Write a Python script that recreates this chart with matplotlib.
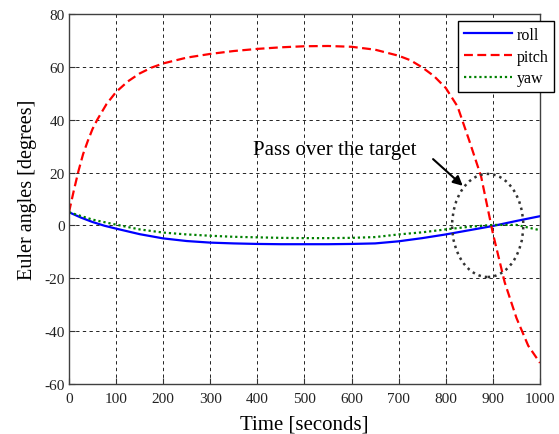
import matplotlib
matplotlib.use("Agg")
import matplotlib.pyplot as plt
from matplotlib.patches import Ellipse

plt.rcParams['font.family'] = ['Liberation Serif', 'DejaVu Serif']
plt.rcParams['axes.unicode_minus'] = False

# Time samples [s]
t_pitch = [0, 10, 20, 30, 40, 50, 60, 80, 100, 125, 150, 175, 200, 250, 300,
           350, 400, 450, 500, 550, 600, 650, 700, 725, 750, 775, 800, 825,
           850, 875, 900, 925, 950, 975, 1000]
pitch = [5, 13, 20.5, 27, 32, 36.5, 40, 46, 50.5, 54.5, 57.5, 59.7, 61.3, 63.5,
         64.9, 66, 66.8, 67.4, 67.8, 67.9, 67.6, 66.5, 64.2, 62.5, 59.8, 56.5,
         52, 45, 32, 18.5, -3, -21.5, -35, -45.5, -52]

t_roll = [0, 25, 50, 75, 100, 150, 200, 250, 300, 350, 400, 450, 500, 550, 600,
          650, 700, 750, 800, 850, 900, 950, 1000]
roll = [5, 3, 1.3, -0.1, -1.2, -3.3, -4.9, -5.9, -6.5, -6.8, -7.0, -7.1, -7.1,
        -7.1, -7.0, -6.8, -6.0, -4.8, -3.4, -1.8, -0.2, 1.7, 3.5]

t_yaw = [0, 50, 100, 150, 200, 250, 300, 350, 400, 450, 500, 550, 600, 650,
         700, 750, 800, 850, 900, 950, 1000]
yaw = [5, 2.2, 0.3, -1.5, -2.7, -3.4, -3.9, -4.3, -4.5, -4.7, -4.8, -4.8, -4.7,
       -4.4, -3.4, -2.6, -1.5, -0.5, 0.2, 0.2, -1.8]

x_ticks = [0, 100, 200, 300, 400, 500, 600, 700, 800, 900, 1000]
y_ticks = [-60, -40, -20, 0, 20, 40, 60, 80]

fig = plt.figure(figsize=(5.59, 4.35), dpi=100)
ax = fig.add_axes([0.1234, 0.1149, 0.8426, 0.8506])

ax.plot(t_roll, roll, color='#0000ff', lw=1.6, label='roll')
ax.plot(t_pitch, pitch, color='#ff0000', lw=1.6, linestyle=(0, (4, 2)), label='pitch')
ax.plot(t_yaw, yaw, color='#008000', lw=1.6, linestyle=(0, (1, 1.3)), label='yaw')

# Region of the target pass
ax.add_patch(Ellipse((889, 0), 151, 39, fill=False, edgecolor='#333333',
                     lw=1.8, linestyle=(0, (1, 1.6)), zorder=4))
ax.annotate('', xy=(836, 15), xytext=(773, 25.1),
            arrowprops=dict(arrowstyle='-|>', color='k', lw=1.5,
                            mutation_scale=14, shrinkA=0, shrinkB=0))
ax.text(391, 27, 'Pass over the target', fontsize=15, va='baseline', ha='left')

ax.set_xlim(0, 1000)
ax.set_ylim(-60, 80)
ax.set_xticks(x_ticks)
ax.set_yticks(y_ticks)
ax.grid(True, color='k', linestyle=(0, (4, 4)), linewidth=0.6)
ax.tick_params(direction='in', length=4, labelsize=11, labelcolor='#222222',
               colors='#333333')
ax.tick_params(axis='x', pad=5.5)
ax.tick_params(axis='y', pad=3)
for s in ax.spines.values():
    s.set_color('#404040')
    s.set_linewidth(1.0)

ax.set_xlabel('Time [seconds]', fontsize=15, labelpad=7)
ax.set_ylabel('Euler angles [degrees]', fontsize=14.5)
ax.yaxis.set_label_coords(-0.067, 0.527)

leg = ax.legend(loc='upper right', bbox_to_anchor=(1.0297, 0.980), borderaxespad=0,
                fontsize=11.5, handlelength=3.0, labelspacing=0.35, borderpad=0.35,
                handletextpad=0.3, fancybox=False, framealpha=1)
leg.get_frame().set_edgecolor('k')
leg.get_frame().set_linewidth(1.0)

fig.savefig('out.png', dpi=100)
